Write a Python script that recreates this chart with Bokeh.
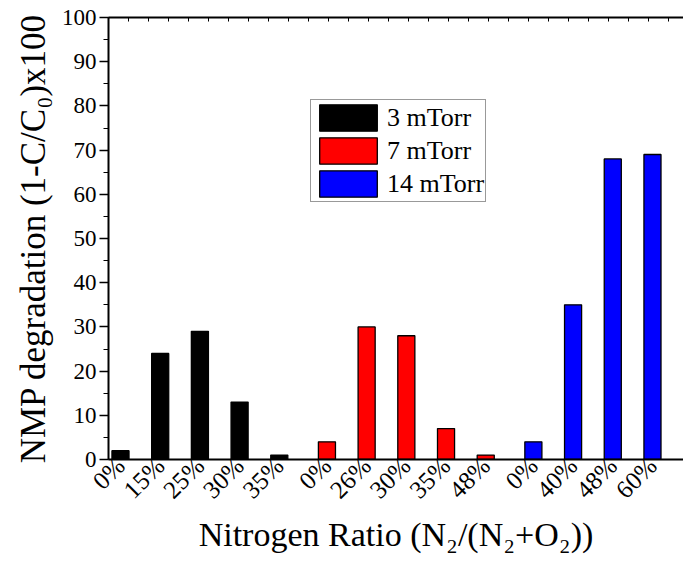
import math
from bokeh.plotting import figure
from bokeh.models import (ColumnDataSource, Range1d, FixedTicker, SingleIntervalTicker,
                          LinearAxis, Legend, LegendItem)
from bokeh.embed import file_html
from bokeh.resources import INLINE

# ---- data ----
pressures = ["3 mTorr", "7 mTorr", "14 mTorr"]
colors = ["#000000", "#ff0000", "#0000ff"]
ratios_3 = ["0%", "15%", "25%", "30%", "35%"]
values_3 = [2, 24, 29, 13, 1]
ratios_7 = ["0%", "26%", "30%", "35%", "48%"]
values_7 = [4, 30, 28, 7, 1]
ratios_14 = ["0%", "40%", "48%", "60%"]
values_14 = [4, 35, 68, 69]

groups = [(ratios_3, values_3), (ratios_7, values_7), (ratios_14, values_14)]

FONT = "'Liberation Serif', 'Times New Roman', serif"
GROUP_GAP = 0.2

# positions of the bars along the x scale
positions = []
pos = 1.0
for ratios, vals in groups:
    xs = []
    for _ in ratios:
        xs.append(round(pos, 3))
        pos += 1
    pos += GROUP_GAP
    positions.append(xs)

all_x = [x for xs in positions for x in xs]
all_labels = [r for ratios, _ in groups for r in ratios]

x_start = 0.698
x_end = x_start + 575 / 39.7

p = figure(width=683, height=561, output_backend="svg", toolbar_location=None,
           x_range=Range1d(x_start, x_end), y_range=Range1d(0, 100),
           min_border_left=108, min_border_right=0, min_border_top=17, min_border_bottom=102,
           background_fill_color="white", border_fill_color="white")
p.outline_line_color = None
p.xgrid.visible = False
p.ygrid.visible = False

renderers = []
for (ratios, vals), xs, c in zip(groups, positions, colors):
    src = ColumnDataSource(dict(x=xs, top=vals))
    r = p.vbar(x="x", top="top", bottom=0, width=0.43, source=src,
               fill_color=c, line_color="black", line_width=1.3)
    renderers.append(r)

# x axis (bottom)
xa = p.xaxis[0]
xa.ticker = FixedTicker(ticks=all_x)
xa.major_label_overrides = {x: lab for x, lab in zip(all_x, all_labels)}
xa.major_label_orientation = math.pi / 4
xa.major_label_text_font = FONT
xa.major_label_text_font_size = "25px"
xa.major_label_text_color = "black"
xa.major_label_standoff = 2
xa.major_tick_in = 0
xa.major_tick_out = 0
xa.minor_tick_in = 0
xa.minor_tick_out = 0
xa.axis_line_width = 2
xa.axis_line_color = "black"
xa.axis_label = "Nitrogen Ratio (N\u2082/(N\u2082+O\u2082))"
xa.axis_label_text_font = FONT
xa.axis_label_text_font_size = "34px"
xa.axis_label_text_font_style = "normal"
xa.axis_label_text_color = "black"
xa.axis_label_standoff = 0

# y axis
ya = p.yaxis[0]
ya.ticker = SingleIntervalTicker(interval=10, num_minor_ticks=2)
ya.major_label_text_font = FONT
ya.major_label_text_font_size = "23px"
ya.major_label_text_color = "black"
ya.major_label_standoff = 3
ya.major_tick_in = 0
ya.major_tick_out = 9
ya.minor_tick_in = 0
ya.minor_tick_out = 5
ya.major_tick_line_width = 1.5
ya.minor_tick_line_width = 1.2
ya.axis_line_width = 2
ya.axis_line_color = "black"
ya.axis_label = "NMP degradation (1-C/C\u2080)x100"
ya.axis_label_text_font = FONT
ya.axis_label_text_font_size = "35px"
ya.axis_label_text_font_style = "normal"
ya.axis_label_text_color = "black"
ya.axis_label_standoff = 6

# top frame line with small inward ticks
top_ticks = [round(x_start + 0.504 * k, 3) for k in range(0, 30)]
ta = LinearAxis(ticker=FixedTicker(ticks=top_ticks))
ta.major_label_text_font_size = "0px"
ta.major_label_standoff = 0
ta.major_tick_in = 4
ta.major_tick_out = 0
ta.minor_tick_in = 0
ta.minor_tick_out = 0
ta.axis_line_width = 2
ta.axis_line_color = "black"
p.add_layout(ta, "above")

legend = Legend(items=[LegendItem(label=lab, renderers=[r]) for lab, r in zip(pressures, renderers)],
                location=(202, 257))
legend.glyph_width = 72
legend.glyph_height = 33
legend.spacing = 0
legend.padding = 1
legend.margin = 0
legend.label_standoff = 3
legend.label_text_font = FONT
legend.label_text_font_size = "26px"
legend.label_text_color = "black"
legend.border_line_color = "#333333"
legend.border_line_width = 1
legend.background_fill_color = "white"
legend.background_fill_alpha = 1
p.add_layout(legend, "center")

open("out.html", "w").write(file_html(p, INLINE))
